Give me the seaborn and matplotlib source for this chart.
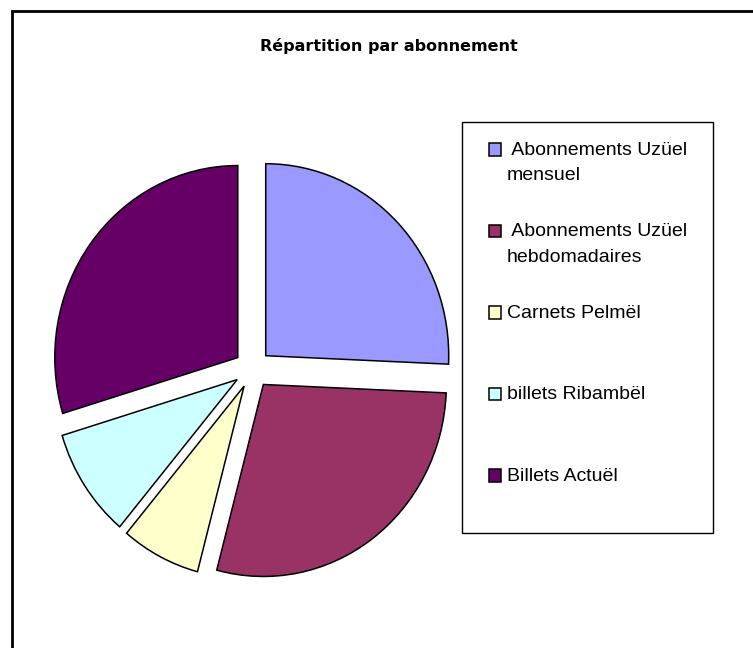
import matplotlib
matplotlib.use('Agg')
import matplotlib.pyplot as plt
from matplotlib.patches import Rectangle
import seaborn as sns

# data (share in %)
categories = [" Abonnements Uzüel\nmensuel", " Abonnements Uzüel\nhebdomadaires",
              "Carnets Pelmël", "billets Ribambël", "Billets Actuël"]
shares = [25.7, 28.4, 7.0, 9.2, 29.7]
colors = ["#9999FF", "#993366", "#FFFFCC", "#CCFFFF", "#660066"]

sns.set_style("white")
plt.rcParams['font.family'] = ['Liberation Sans', 'DejaVu Sans']

W, H = 753, 648
fig = plt.figure(figsize=(W / 100, H / 100), dpi=100)

# pie axes: slightly taller than wide, like the original plot area
ax = fig.add_axes([14.6 / W, (H - 599.4) / H, 475.8 / W, 460.8 / H])
wedges, _ = ax.pie(shares, colors=sns.color_palette(colors), startangle=90,
                   counterclock=False, explode=[0.1] * 5,
                   wedgeprops=dict(edgecolor='black', linewidth=1.1))
ax.set_aspect('auto')
ax.set_xlim(-1.3, 1.3)
ax.set_ylim(-1.2, 1.2)
ax.axis('off')

# title
fig.text(389 / W, 1 - 46 / H, "Répartition par abonnement", ha='center', va='center',
         fontsize=11.5, fontweight='bold', family='DejaVu Sans', color='black')

# outer chart border (right/bottom sides fall outside the image)
fig.add_artist(Rectangle((12 / W, -0.1), 1.2, 1 - 11 / H + 0.1, transform=fig.transFigure,
                         fill=False, edgecolor='black', linewidth=2))

# legend box
fig.add_artist(Rectangle((462 / W, 1 - 533 / H), 251 / W, 411 / H, transform=fig.transFigure,
                         facecolor='white', edgecolor='black', linewidth=1, zorder=3))

# every entry gets two text lines so the rows are evenly spaced like the original
labels = [c if "\n" in c else c + "\n " for c in categories]
leg = fig.legend(wedges, labels, loc='upper left', bbox_to_anchor=(489 / W, 1 - 142 / H),
                 frameon=False, borderpad=0, borderaxespad=0, fontsize=14,
                 handlelength=0.62, handleheight=0.62, handletextpad=0.3,
                 labelspacing=2.01)
for t in leg.get_texts():
    t.set_linespacing(1.64)
    t.set_color('black')
# put the square next to the first line of each label
for h in leg.legend_handles:
    h.set_y(h.get_y() + 9.4)

fig.savefig("out.png", dpi=100)
